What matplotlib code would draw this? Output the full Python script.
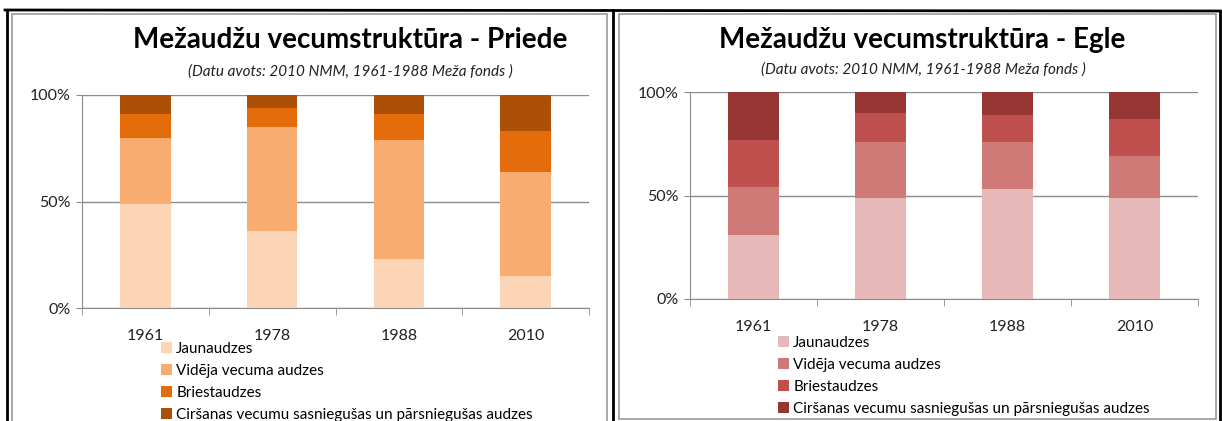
import numpy as np
import matplotlib
matplotlib.use("Agg")
import matplotlib.pyplot as plt
from matplotlib.lines import Line2D
from matplotlib.patches import Rectangle

plt.rcParams['font.family'] = ['Lato', 'DejaVu Sans']

years = ['1961', '1978', '1988', '2010']
labels = ['Jaunaudzes', 'Vidēja vecuma audzes', 'Briestaudzes',
          'Ciršanas vecumu sasniegušas un pārsniegušas audzes']

# shares in %, bottom to top
priede_jaun = [49, 36, 23, 15]
priede_vid = [31, 49, 56, 49]
priede_briest = [11, 9, 12, 19]
priede_cirs = [9, 6, 9, 17]

egle_jaun = [31, 49, 53, 49]
egle_vid = [23, 27, 23, 20]
egle_briest = [23, 14, 13, 18]
egle_cirs = [23, 10, 11, 13]

priede_colors = ['#FBD5B5', '#F8AC6F', '#E46C0A', '#AD5007']
egle_colors = ['#E6B9B8', '#D07A78', '#C0504D', '#963634']

W, H = 1222, 421
fig = plt.figure(figsize=(W / 100, H / 100), dpi=100)


def fx(px):
    return px / W


def fy(py):
    return 1 - py / H


def panel(box, series, colors, title, title_xy, sub_xy, leg_xy, year_pad):
    x0, y0, x1, y1 = box
    ax = fig.add_axes([fx(x0), fy(y1), fx(x1 - x0), (y1 - y0) / H])
    x = np.arange(len(years))
    bottom = np.zeros(len(years))
    handles = []
    for vals, col, lab in zip(series, colors, labels):
        b = ax.bar(x, vals, 0.4, bottom=bottom, color=col, label=lab, zorder=2)
        handles.append(b)
        bottom += np.array(vals)
    ax.set_xlim(-0.5, len(years) - 0.5)
    ax.set_ylim(0, 100)
    ax.set_yticks([0, 50, 100])
    ax.set_yticklabels(['0%', '50%', '100%'], fontsize=11.5, color='#222222')
    ax.yaxis.grid(True, color='#8c8c8c', lw=1, zorder=0)
    ax.set_xticks(x)
    ax.set_xticklabels(years, fontsize=11.5, color='#222222')
    ax.tick_params(axis='x', length=0, pad=year_pad)
    ax.set_xticks(np.arange(-0.5, len(years)), minor=True)
    ax.tick_params(axis='x', which='minor', length=5, color='#8c8c8c')
    ax.tick_params(axis='y', length=4, color='#8c8c8c', pad=4)
    for s in ['top', 'right']:
        ax.spines[s].set_visible(False)
    for s in ['left', 'bottom']:
        ax.spines[s].set_color('#8c8c8c')
    fig.text(fx(title_xy[0]), fy(title_xy[1]), title, fontsize=20,
             fontweight='bold', ha='center', va='center')
    fig.text(fx(sub_xy[0]), fy(sub_xy[1]),
             '(Datu avots: 2010 NMM, 1961-1988 Meža fonds )',
             fontsize=11, style='italic', ha='center', va='center', color='#222222')
    fig.legend(handles=handles, loc='upper left',
               bbox_to_anchor=(fx(leg_xy[0]), fy(leg_xy[1])), frameon=False,
               fontsize=11, handlelength=0.7, handleheight=0.7,
               handletextpad=0.3, labelspacing=0.52, borderpad=0,
               borderaxespad=0)


panel((82, 95, 589, 308),
      [priede_jaun, priede_vid, priede_briest, priede_cirs], priede_colors,
      'Mežaudžu vecumstruktūra - Priede', (350, 40), (350, 72), (161, 342), 15)
panel((690, 92, 1198, 299),
      [egle_jaun, egle_vid, egle_briest, egle_cirs], egle_colors,
      'Mežaudžu vecumstruktūra - Egle', (922, 40), (923, 70), (778, 336), 15)

# frames
k = dict(transform=fig.transFigure, color='black', lw=2)
fig.add_artist(Line2D([fx(5), fx(1220)], [fy(10), fy(11)], **k))
fig.add_artist(Line2D([fx(7), fx(7)], [fy(10), 0], **k))
fig.add_artist(Line2D([fx(613), fx(613)], [fy(10), 0], **k))
fig.add_artist(Line2D([fx(1219.5), fx(1219.5)], [fy(11), 0], **k))
g = dict(transform=fig.transFigure, fill=False, edgecolor='#9a9a9a', lw=1.2)
fig.add_artist(Rectangle((fx(12), fy(430)), fx(607 - 12), (430 - 14) / H, **g))
fig.add_artist(Rectangle((fx(619), fy(419)), fx(1216 - 619), (419 - 14) / H, **g))

fig.savefig('out.png', dpi=100)
